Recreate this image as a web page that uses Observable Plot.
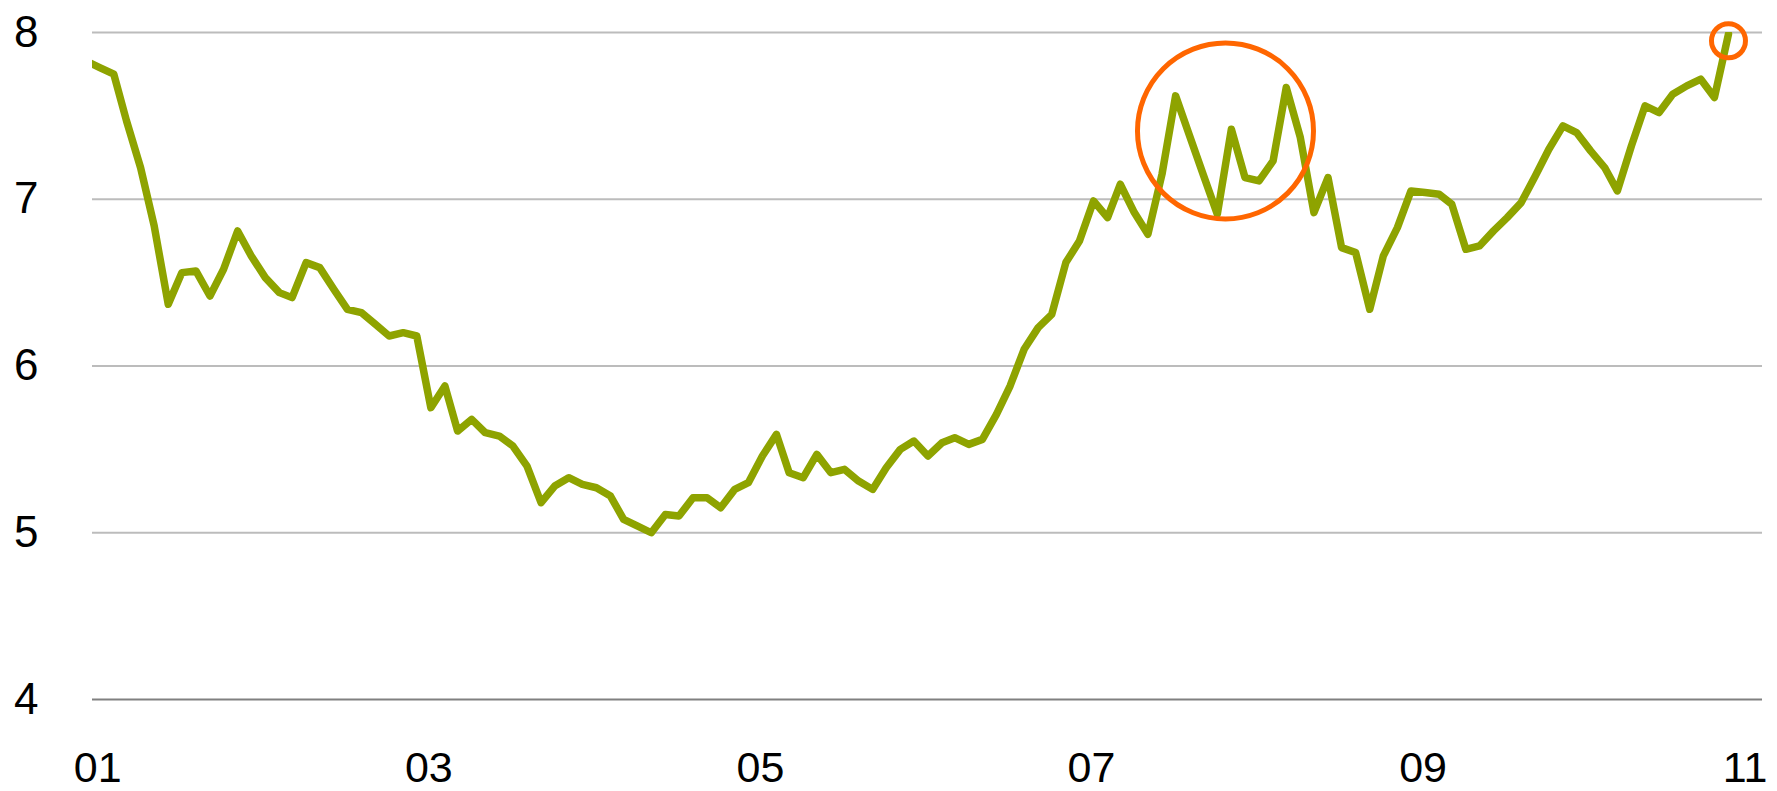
<!DOCTYPE html>
<html>
<head>
<meta charset="utf-8">
<script src="https://cdn.jsdelivr.net/npm/d3@7"></script>
<script src="https://cdn.jsdelivr.net/npm/@observablehq/plot@0.6"></script>
<style>
  html, body { margin: 0; padding: 0; background: #fff; }
  #chart svg { display: block; }
</style>
</head>
<body>
<div id="chart"></div>
<script>
// Monthly series, first value Dec 2000, last value Nov 2010
const firstMonth = "2000-12-01";
const values = [
  7.83, 7.79, 7.75, 7.47, 7.19, 6.84, 6.37, 6.56, 6.57, 6.42,
  6.58, 6.81, 6.66, 6.53, 6.44, 6.41, 6.62, 6.59, 6.46, 6.34,
  6.32, 6.25, 6.18, 6.20, 6.18, 5.75, 5.88, 5.61, 5.68, 5.60,
  5.58, 5.52, 5.40, 5.18, 5.28, 5.33, 5.29, 5.27, 5.22, 5.08,
  5.04, 5.00, 5.11, 5.10, 5.21, 5.21, 5.15, 5.26, 5.30, 5.46,
  5.59, 5.36, 5.33, 5.47, 5.36, 5.38, 5.31, 5.26, 5.39, 5.50,
  5.55, 5.46, 5.54, 5.57, 5.53, 5.56, 5.71, 5.88, 6.10, 6.23,
  6.31, 6.62, 6.75, 6.99, 6.89, 7.09, 6.92, 6.79, 7.15, 7.62,
  7.38, 7.14, 6.91, 7.42, 7.13, 7.11, 7.23, 7.67, 7.37, 6.92,
  7.13, 6.71, 6.68, 6.34, 6.66, 6.83, 7.05, 7.04, 7.03, 6.97,
  6.70, 6.72, 6.81, 6.89, 6.98, 7.14, 7.30, 7.44, 7.40, 7.29,
  7.19, 7.05, 7.32, 7.56, 7.52, 7.63, 7.68, 7.72, 7.61, 7.99
];
const yTicks = [4, 5, 6, 7, 8];
const gridValues = [5, 6, 7, 8];
const tickYears = [2001, 2003, 2005, 2007, 2009, 2011];
// highlighted spots (big circle around the 2007-08 swings, small circle on the last value)
const highlightDates = ["2007-10-19", "2010-11-01"];
const highlightValues = [7.41, 7.95];

const start = new Date(firstMonth);
const series = values.map((v, i) => ({date: d3.utcMonth.offset(start, i), value: v}));
const xTicks = tickYears.map(y => new Date(Date.UTC(y, 0, 1)));
const highlights = highlightDates.map((d, i) => ({date: new Date(d), value: highlightValues[i]}));
const fmt = d3.utcFormat("%y");

const chart = Plot.plot({
  width: 1777,
  height: 791,
  marginTop: 32,
  marginBottom: 92,
  marginLeft: 92,
  marginRight: 15,
  style: {fontFamily: "'Liberation Sans', Arial, sans-serif", fontSize: "43px", color: "#000", background: "#fff", overflow: "visible"},
  x: {type: "utc", domain: [new Date("2000-12-16"), new Date("2011-01-15")]},
  y: {domain: [4, 8]},
  marks: [
    Plot.ruleY(gridValues, {stroke: "#bcbcbc", strokeWidth: 2.2}),
    Plot.ruleY([4], {stroke: "#808080", strokeWidth: 2.2}),
    Plot.axisY({ticks: yTicks, tickSize: 0, tickPadding: 54, fontSize: 44, tickFormat: d => String(d), label: null}),
    Plot.axisX({ticks: xTicks.slice(0, -1), tickSize: 0, tickPadding: 52, fontSize: 43, dx: -2, tickFormat: fmt, label: null}),
    Plot.axisX({ticks: xTicks.slice(-1), tickSize: 0, tickPadding: 52, fontSize: 43, dx: -11, tickFormat: fmt, label: null}),
    Plot.lineY(series, {x: "date", y: "value", stroke: "#8ea300", strokeWidth: 7.5, strokeLinejoin: "round", clip: true}),
    Plot.dot(highlights.slice(0, 1), {x: "date", y: "value", r: 88, stroke: "#ff6600", strokeWidth: 5, fill: "none"}),
    Plot.dot(highlights.slice(1), {x: "date", y: "value", r: 17, stroke: "#ff6600", strokeWidth: 5, fill: "none"})
  ]
});
document.getElementById("chart").appendChild(chart);
</script>
</body>
</html>
